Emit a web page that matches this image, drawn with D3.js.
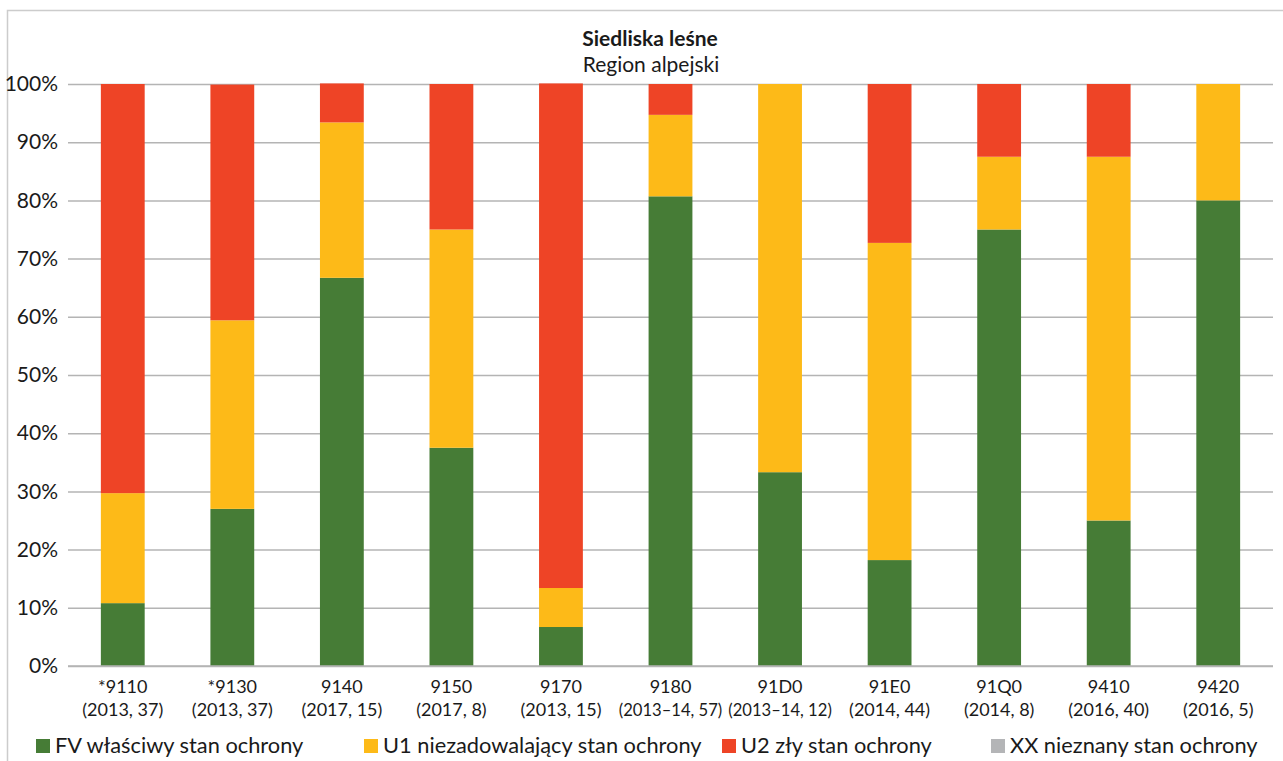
<!DOCTYPE html>
<html>
<head>
<meta charset="utf-8">
<script src="https://cdn.jsdelivr.net/npm/d3@7"></script>
<style>
  html, body { margin: 0; padding: 0; background: #fff; }
  svg { display: block; font-family: Lato, "Open Sans", sans-serif; }
</style>
</head>
<body>
<svg id="chart" width="1283" height="761"></svg>
<script>
// Habitat codes and (assessment year, number of sites)
const codes = ["*9110", "*9130", "9140", "9150", "9170", "9180", "91D0", "91E0", "91Q0", "9410", "9420"];
const details = ["(2013, 37)", "(2013, 37)", "(2017, 15)", "(2017, 8)", "(2013, 15)", "(2013\u201314, 57)", "(2013\u201314, 12)", "(2014, 44)", "(2014, 8)", "(2016, 40)", "(2016, 5)"];

// Share of sites in each conservation status (%)
const fv = [10.8, 27.0, 66.7, 37.5, 6.7, 80.7, 33.3, 18.2, 75.0, 25.0, 80.0];
const u1 = [18.9, 32.4, 26.7, 37.5, 6.7, 14.0, 66.7, 54.5, 12.5, 62.5, 20.0];
const u2 = [70.3, 40.5, 6.7, 25.0, 86.7, 5.3, 0.0, 27.3, 12.5, 12.5, 0.0];
const xx = [0, 0, 0, 0, 0, 0, 0, 0, 0, 0, 0];

const seriesKeys = ["FV", "U1", "U2", "XX"];
const seriesNames = ["FV właściwy stan ochrony", "U1 niezadowalający stan ochrony", "U2 zły stan ochrony", "XX nieznany stan ochrony"];
const seriesColors = ["#467c36", "#fdba18", "#ee4426", "#b4b5b7"];
const yTicks = [0, 10, 20, 30, 40, 50, 60, 70, 80, 90, 100];

const rows = codes.map((c, i) => ({ code: c, FV: fv[i], U1: u1[i], U2: u2[i], XX: xx[i] }));

const svg = d3.select("#chart");
const W = 1283, H = 761;
const plot = { left: 68, right: 1273, top: 84, bottom: 666 };

// outer frame
svg.append("rect")
  .attr("x", 7.5).attr("y", 10.5)
  .attr("width", W + 20).attr("height", H + 20)
  .attr("fill", "none").attr("stroke", "#cccccc").attr("stroke-width", 1.5);

// title
svg.append("text")
  .attr("x", 650).attr("y", 46)
  .attr("text-anchor", "middle")
  .attr("font-size", 21).attr("font-weight", "bold").attr("fill", "#1a1a1a")
  .text("Siedliska leśne");
svg.append("text")
  .attr("x", 651).attr("y", 72)
  .attr("text-anchor", "middle")
  .attr("font-size", 21).attr("fill", "#1a1a1a")
  .text("Region alpejski");

const x = d3.scaleBand().domain(codes).range([plot.left, plot.right]).paddingInner(0.6).paddingOuter(0.3);
const y = d3.scaleLinear().domain([0, 100]).range([plot.bottom, plot.top]);

// gridlines and y labels
const yAxis = d3.axisLeft(y).tickValues(yTicks).tickFormat(d => d + "%")
  .tickSize(-(plot.right - plot.left)).tickPadding(10);
const gy = svg.append("g").attr("transform", `translate(${plot.left},0)`).call(yAxis);
gy.select(".domain").remove();
gy.selectAll(".tick line").attr("stroke", "#b4b4b4").attr("stroke-width", 1.5);
gy.selectAll(".tick text").attr("font-size", 21).attr("fill", "#1a1a1a").attr("font-family", "Lato, sans-serif");

// stacked bars
const stack = d3.stack().keys(seriesKeys)(rows);
const layers = svg.append("g").selectAll("g").data(stack).join("g")
  .attr("fill", (d, i) => seriesColors[i]);
layers.selectAll("rect").data(d => d.filter(s => s[1] - s[0] > 0)).join("rect")
  .attr("x", d => x(d.data.code))
  .attr("width", x.bandwidth())
  .attr("y", d => y(d[1]))
  .attr("height", d => y(d[0]) - y(d[1]));

// x axis line (0%)
svg.append("line")
  .attr("x1", plot.left).attr("x2", plot.right)
  .attr("y1", y(0)).attr("y2", y(0))
  .attr("stroke", "#b4b4b4").attr("stroke-width", 1.5);

// category labels, two lines each
const xl = svg.append("g").selectAll("text").data(codes).join("text")
  .attr("text-anchor", "middle")
  .attr("font-size", 18).attr("fill", "#1a1a1a")
  .attr("transform", d => `translate(${x(d) + x.bandwidth() / 2},0)`);
xl.append("tspan").attr("x", 0).attr("y", 693).text(d => d);
xl.append("tspan").attr("x", 0).attr("y", 716).text((d, i) => details[i]);

// keep neighbouring labels from running into each other
const maxLabel = x.step() - 6;
xl.selectAll("tspan").each(function () {
  if (this.getComputedTextLength() > maxLabel) {
    d3.select(this).attr("textLength", maxLabel).attr("lengthAdjust", "spacingAndGlyphs");
  }
});

// legend
const legendX = [36, 364, 722, 991];
const lg = svg.append("g").selectAll("g").data(seriesKeys).join("g")
  .attr("transform", (d, i) => `translate(${legendX[i]},739)`);
lg.append("rect").attr("width", 14).attr("height", 14).attr("fill", (d, i) => seriesColors[i]);
lg.append("text").attr("x", 19).attr("y", 13.5)
  .attr("font-size", 21.8).attr("fill", "#1a1a1a")
  .text((d, i) => seriesNames[i]);
</script>
</body>
</html>
